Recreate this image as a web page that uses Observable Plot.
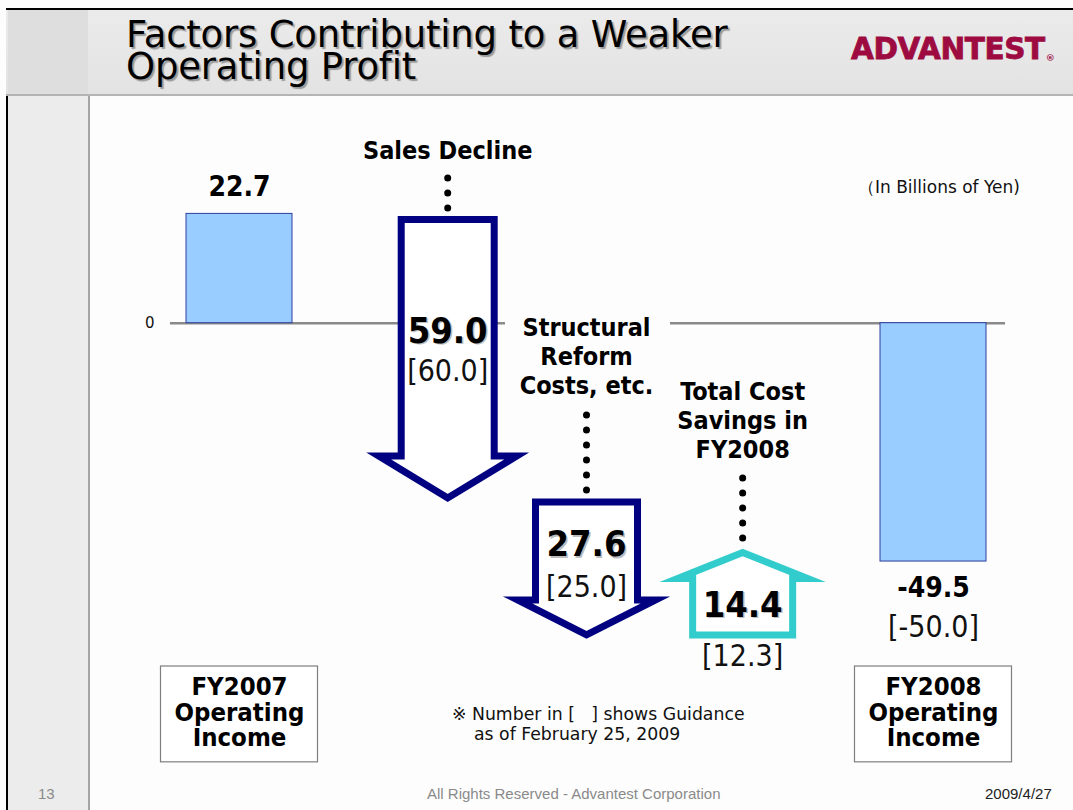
<!DOCTYPE html>
<html>
<head>
<meta charset="utf-8">
<script src="https://cdn.jsdelivr.net/npm/d3@7"></script>
<script src="https://cdn.jsdelivr.net/npm/@observablehq/plot@0.6"></script>
<style>
  html, body { margin: 0; padding: 0; background: #fff; }
  #slide { position: relative; width: 1073px; height: 810px; overflow: hidden; background: #fdfdfd;
           font-family: "DejaVu Sans", sans-serif; }
  .abs { position: absolute; }
  #hdr { left: 6px; top: 8px; width: 1067px; height: 84px; background: linear-gradient(#ebebeb, #e3e3e3);
         border-top: 2px solid #000; border-bottom: 2px solid #b4b4b4; }
  #band { left: 6px; top: 8px; width: 80px; height: 802px; background: #ececec;
          border-left: 2px solid #000; border-right: 2px solid #a4a4a4; }
  #bandTop { left: 8px; top: 10px; width: 80px; height: 84px; background: #dedede; }
  #chart { left: 0; top: 0; }
  #title { left: 126px; top: 19px; font-size: 37px; line-height: 31.5px; letter-spacing: -0.2px; color: #000;
           text-shadow: 2px 2px 1px #9a9a9a; white-space: nowrap; }
  #logo { left: 851px; top: 34px; font-family: "DejaVu Sans", sans-serif; font-weight: bold;
          font-size: 29.5px; line-height: 31px; color: #9d0b41; letter-spacing: -0.4px; white-space: nowrap;
          -webkit-text-stroke: 0.8px #9d0b41; }
  #logo sup { font-size: 9px; letter-spacing: 0; vertical-align: -2px; margin-left: 1px; -webkit-text-stroke: 0; }
  #unit { left: 858px; top: 177px; font-size: 17px; line-height: 20px; color: #111; white-space: nowrap; }
  #note { left: 452px; top: 704px; font-size: 17.3px; line-height: 20px; color: #111; white-space: nowrap; }
  .foot { top: 785px; font-family: "Liberation Sans", Arial, sans-serif; font-size: 15px; line-height: 17px; white-space: nowrap; }
  #page { left: 38px; color: #8a8a8a; }
  #rights { left: 427px; color: #8a8a8a; }
  #date { left: 985px; color: #222; }
</style>
</head>
<body>
<div id="slide">
  <div id="band" class="abs"></div>
  <div id="hdr" class="abs"></div>
  <div id="bandTop" class="abs"></div>
  <div id="chart" class="abs"></div>
  <div id="title" class="abs">Factors Contributing to a Weaker<br>Operating Profit</div>
  <div id="logo" class="abs">ADVANTEST<sup>®</sup></div>
  <div id="unit" class="abs">（In Billions of Yen)</div>
  <div id="note" class="abs">※ Number in [&nbsp;&nbsp;&nbsp;] shows Guidance<br>&nbsp;&nbsp;&nbsp;&nbsp;as of February 25, 2009</div>
  <div id="page" class="abs foot">13</div>
  <div id="rights" class="abs foot">All Rights Reserved - Advantest Corporation</div>
  <div id="date" class="abs foot">2009/4/27</div>
</div>
<script>
// ---------------- DATA ----------------
const categories = ["FY2007 Operating Income", "Sales Decline", "Structural Reform Costs, etc.",
                    "Total Cost Savings in FY2008", "FY2008 Operating Income"];
const startValue = 22.7;                 // FY2007 operating income
const changes = [-59.0, -27.6, 14.4];    // sales decline, structural reform costs, cost savings
const endValue = -49.5;                  // FY2008 operating income
const guidance = [null, 60.0, 25.0, 12.3, -50.0];
const changeLabels = ["Sales Decline", "Structural\nReform\nCosts, etc.", "Total Cost\nSavings in\nFY2008"];
const totalLabels = ["FY2007\nOperating\nIncome", "FY2008\nOperating\nIncome"];
const yTicks = [0];

// ---------------- LAYOUT (not data) ----------------
const FONT = "'DejaVu Sans Condensed','DejaVu Sans',sans-serif";
const X_DOMAIN = [0, 4], X_RANGE = [239, 933];
const Y_DOMAIN = [-70, 30], Y_RANGE = [659.75, 178.25];
const pxX = (X_RANGE[1] - X_RANGE[0]) / (X_DOMAIN[1] - X_DOMAIN[0]);
const pxY = (Y_RANGE[0] - Y_RANGE[1]) / (Y_DOMAIN[1] - Y_DOMAIN[0]);
const ux = p => p / pxX, uy = p => p / pxY;
const slot = [0, 1.2, 2.0, 2.9, 4.0];            // column centres (uneven, as on the slide)
const barHalf = ux(53);
const arrowStyle = [
  {bw: 46.5, hw: 69, hl: 42, overStart: -5.5, overEnd: 0, color: "#000080"},
  {bw: 51,   hw: 69, hl: 35, overStart: -4,   overEnd: 4, color: "#000080"},
  {bw: 50,   hw: 65, hl: 26, overStart: 4,    overEnd: 9, color: "#33cccc"}
];
const changeLabelY = [36.1, -6.7, -20.0];
const changeValueY = [-1.7, -46.0, -58.6];
const changeGuideY = [-10.0, -54.9, -69.2];
const leaderY = [[30.05, 23.7], [-19.17, -35.3], [-32.25, -45.1]];
const zeroSegments = [[-0.398, 1.533], [2.484, 4.415]];
const boxY = [-71.3, -91.2], boxHalf = ux(78.5), boxTextY = -80.9;

// ---------------- DERIVED ----------------
const levels = [startValue];
changes.forEach(c => levels.push(+(levels[levels.length - 1] + c).toFixed(1)));
const fmt = v => v.toFixed(1);

const totals = [
  {i: 0, value: startValue, label: totalLabels[0]},
  {i: 4, value: endValue, label: totalLabels[1]}
];
const posTotals = totals.filter(d => d.value >= 0);
const negTotals = totals.filter(d => d.value < 0);

const arrowPts = [];
changes.forEach((c, k) => {
  const s = arrowStyle[k], cx = slot[k + 1];
  const from = levels[k], to = levels[k + 1];
  const dir = Math.sign(to - from);
  const f = from - dir * uy(s.overStart);
  const tip = to + dir * uy(s.overEnd);
  const base = tip - dir * uy(s.hl);
  const b = ux(s.bw), h = ux(s.hw);
  const pts = [[cx, f], [cx + b, f], [cx + b, base], [cx + h, base], [cx, tip],
               [cx - h, base], [cx - b, base], [cx - b, f], [cx, f]];
  pts.forEach(([x, y]) => arrowPts.push({id: k, x, y, color: s.color}));
});

const changeRows = changes.map((c, k) => ({
  x: slot[k + 1], label: changeLabels[k], value: fmt(Math.abs(c)),
  guide: "[" + fmt(guidance[k + 1]) + "]",
  ly: changeLabelY[k], vy: changeValueY[k], gy: changeGuideY[k],
  l1: leaderY[k][0], l2: leaderY[k][1]
}));

const plot = Plot.plot({
  width: 1073, height: 810,
  marginLeft: 160, marginRight: 0, marginTop: 0, marginBottom: 0,
  style: {background: "transparent", fontFamily: "'DejaVu Sans',sans-serif", fontSize: "15px", overflow: "visible", color: "#111"},
  x: {domain: X_DOMAIN, range: X_RANGE, axis: null},
  y: {domain: Y_DOMAIN, range: Y_RANGE, ticks: yTicks, tickSize: 0, tickPadding: 6, label: null, tickFormat: d => String(d)},
  color: {type: "identity"},
  marks: [
    Plot.ruleY(zeroSegments, {y: () => 0, x1: d => d[0], x2: d => d[1], stroke: "#8a8a8a", strokeWidth: 2.5}),
    Plot.rect(totals, {x1: d => slot[d.i] - barHalf, x2: d => slot[d.i] + barHalf, y1: 0, y2: "value",
                       fill: "#99ccff", stroke: "#2c3e9e", strokeWidth: 1, inset: 0}),
    Plot.line(arrowPts, {x: "x", y: "y", z: "id", stroke: "color", fill: "white", strokeWidth: 7,
                         strokeLinejoin: "miter", strokeMiterlimit: 10, curve: "linear"}),
    Plot.ruleX(changeRows, {x: "x", y1: "l1", y2: "l2", stroke: "#000", strokeWidth: 7,
                            strokeDasharray: "0 15", strokeLinecap: "round"}),
    // labels of the changes
    Plot.text(changeRows, {x: "x", y: "ly", text: "label", fontFamily: FONT, fontWeight: "bold", fontSize: 25,
                           lineHeight: 1.16, lineAnchor: "middle", fill: "#000"}),
    // big change values (with soft shadow)
    Plot.text(changeRows, {x: "x", y: "vy", text: "value", fontFamily: FONT, fontWeight: "bold", fontSize: 36,
                           lineAnchor: "middle", fill: "#bdbdbd", dx: 1.5, dy: 1.5}),
    Plot.text(changeRows, {x: "x", y: "vy", text: "value", fontFamily: FONT, fontWeight: "bold", fontSize: 36,
                           lineAnchor: "middle", fill: "#000"}),
    Plot.text(changeRows, {x: "x", y: "gy", text: "guide", fontFamily: FONT, fontSize: 30,
                           lineAnchor: "middle", fill: "#111"}),
    // totals values
    Plot.text(posTotals, {x: d => slot[d.i], y: "value", text: d => fmt(d.value), fontFamily: FONT, fontWeight: "bold",
                       fontSize: 28, lineAnchor: "middle", dy: -27, fill: "#000"}),
    Plot.text(negTotals, {x: d => slot[d.i], y: "value", text: d => fmt(d.value), fontFamily: FONT, fontWeight: "bold",
                       fontSize: 28, lineAnchor: "middle", dy: 26, fill: "#000"}),
    Plot.text(negTotals.filter(d => guidance[d.i] != null), {x: d => slot[d.i], y: "value",
                       text: d => "[" + fmt(guidance[d.i]) + "]", fontFamily: FONT, fontSize: 30,
                       lineAnchor: "middle", dy: 66, fill: "#111"}),
    // category boxes
    Plot.rect(totals, {x1: d => slot[d.i] - boxHalf, x2: d => slot[d.i] + boxHalf, y1: boxY[0], y2: boxY[1],
                       fill: "white", stroke: "#7f7f7f", strokeWidth: 1.2, inset: 0}),
    Plot.text(totals, {x: d => slot[d.i], y: boxTextY, text: "label", fontFamily: FONT, fontWeight: "bold",
                       fontSize: 25.5, lineHeight: 1.0, lineAnchor: "middle", fill: "#000"})
  ]
});
document.getElementById("chart").appendChild(plot);
</script>
</body>
</html>
